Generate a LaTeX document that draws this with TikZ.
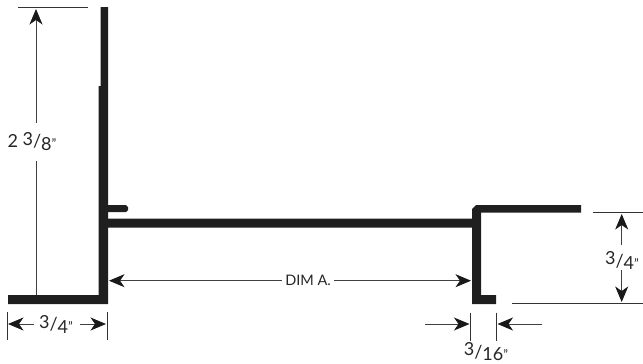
\documentclass[tikz,border=0pt]{standalone}
\usepackage{fontspec}
\setmainfont{Lato}
\usetikzlibrary{arrows.meta}
\newcommand{\dimfr}[2]{\raisebox{2.5pt}{#1}\raisebox{0pt}{/}\raisebox{-2.5pt}{#2}\raisebox{-1pt}{\fontsize{13}{13}\selectfont "}}
\tikzset{
  profile/.style={fill=black!88!white,draw=none},
  dimline/.style={draw=black!75,line width=0.9pt},
  extline/.style={draw=black!80,line width=0.9pt},
  dimarrow/.style={dimline,-{Stealth[length=15.5pt,width=13pt,inset=4.5pt,color=black!90]}},
  dimtext/.style={font=\fontsize{18}{20}\selectfont,text=black!85,inner sep=0pt}
}
\begin{document}
\begin{tikzpicture}[x=1pt,y=-1pt]
\useasboundingbox (0,0) rectangle (643,364);
% profile
\path[profile] (100.5,7) -- (108,7) -- (108,205) -- (126,205) -- (128,207) -- (128,210) -- (126,212) -- (108,212)
  -- (108,218.5) -- (472,218.5) -- (472,209) -- (476,205) -- (581,205) -- (581,212.5) -- (481,212.5)
  -- (481,295) -- (496,295) -- (496,304) -- (472,304) -- (472,227.5) -- (108,227.5)
  -- (108,304) -- (8,304) -- (8,295) -- (98.5,295) -- (98.5,86) -- (100.5,86) -- cycle;
% extension lines
\coordinate (t1a) at (18,7.5); \coordinate (t1b) at (88,7.5);
\coordinate (t2a) at (593,212.7); \coordinate (t2b) at (643,212.7);
\coordinate (t3a) at (512,303.3); \coordinate (t3b) at (643,303.3);
\coordinate (t4a) at (7,312); \coordinate (t4b) at (7,340);
\coordinate (t5a) at (107,312); \coordinate (t5b) at (107,340);
\coordinate (t6a) at (470.3,312.5); \coordinate (t6b) at (470.3,340.5);
\coordinate (t7a) at (496.7,312.5); \coordinate (t7b) at (496.7,340.5);
\draw[extline] (t1a) -- (t1b);
\draw[extline] (t2a) -- (t2b);
\draw[extline] (t3a) -- (t3b);
\draw[extline] (t4a) -- (t4b);
\draw[extline] (t5a) -- (t5b);
\draw[extline] (t6a) -- (t6b);
\draw[extline] (t7a) -- (t7b);
% labels
\node[dimtext] (h) at (32,141.5) {2 \dimfr{3}{8}};
\node[dimtext] (bl) at (56,324) {\dimfr{3}{4}};
\node[dimtext,font=\fontsize{14.5}{16}\selectfont] (da) at (308,280.5) {DIM A.};
\node[dimtext] (rr) at (622,260.5) {\dimfr{3}{4}};
\node[dimtext] (sm) at (486,352) {\dimfr{3}{16}};
% height
\coordinate (h0) at (36,295); \coordinate (h1) at (36,9); \coordinate (h2) at (36,123); \coordinate (h3) at (36,161);
\draw[dimline] (h0) -- (h3);
\draw[dimarrow] (h2) -- (h1);
% 3/4 bottom
\coordinate (b0) at (34,324); \coordinate (b1) at (8,324); \coordinate (b2) at (80,324); \coordinate (b3) at (106,324);
\draw[dimarrow] (b0) -- (b1);
\draw[dimarrow] (b2) -- (b3);
% DIM A
\coordinate (d0) at (282,280.7); \coordinate (d1) at (109,280.7); \coordinate (d2) at (334,280.7); \coordinate (d3) at (471,280.7);
\draw[dimarrow] (d0) -- (d1);
\draw[dimarrow] (d2) -- (d3);
% right 3/4
\coordinate (r0) at (621.7,245); \coordinate (r1) at (621.7,214); \coordinate (r2) at (621.7,270); \coordinate (r3) at (621.7,302);
\draw[dimarrow] (r0) -- (r1);
\draw[dimarrow] (r2) -- (r3);
% 3/16
\coordinate (s0) at (425,324); \coordinate (s1) at (469.5,324); \coordinate (s2) at (542,324); \coordinate (s3) at (497.5,324);
\draw[dimarrow] (s0) -- (s1);
\draw[dimarrow] (s2) -- (s3);
\end{tikzpicture}
\end{document}
